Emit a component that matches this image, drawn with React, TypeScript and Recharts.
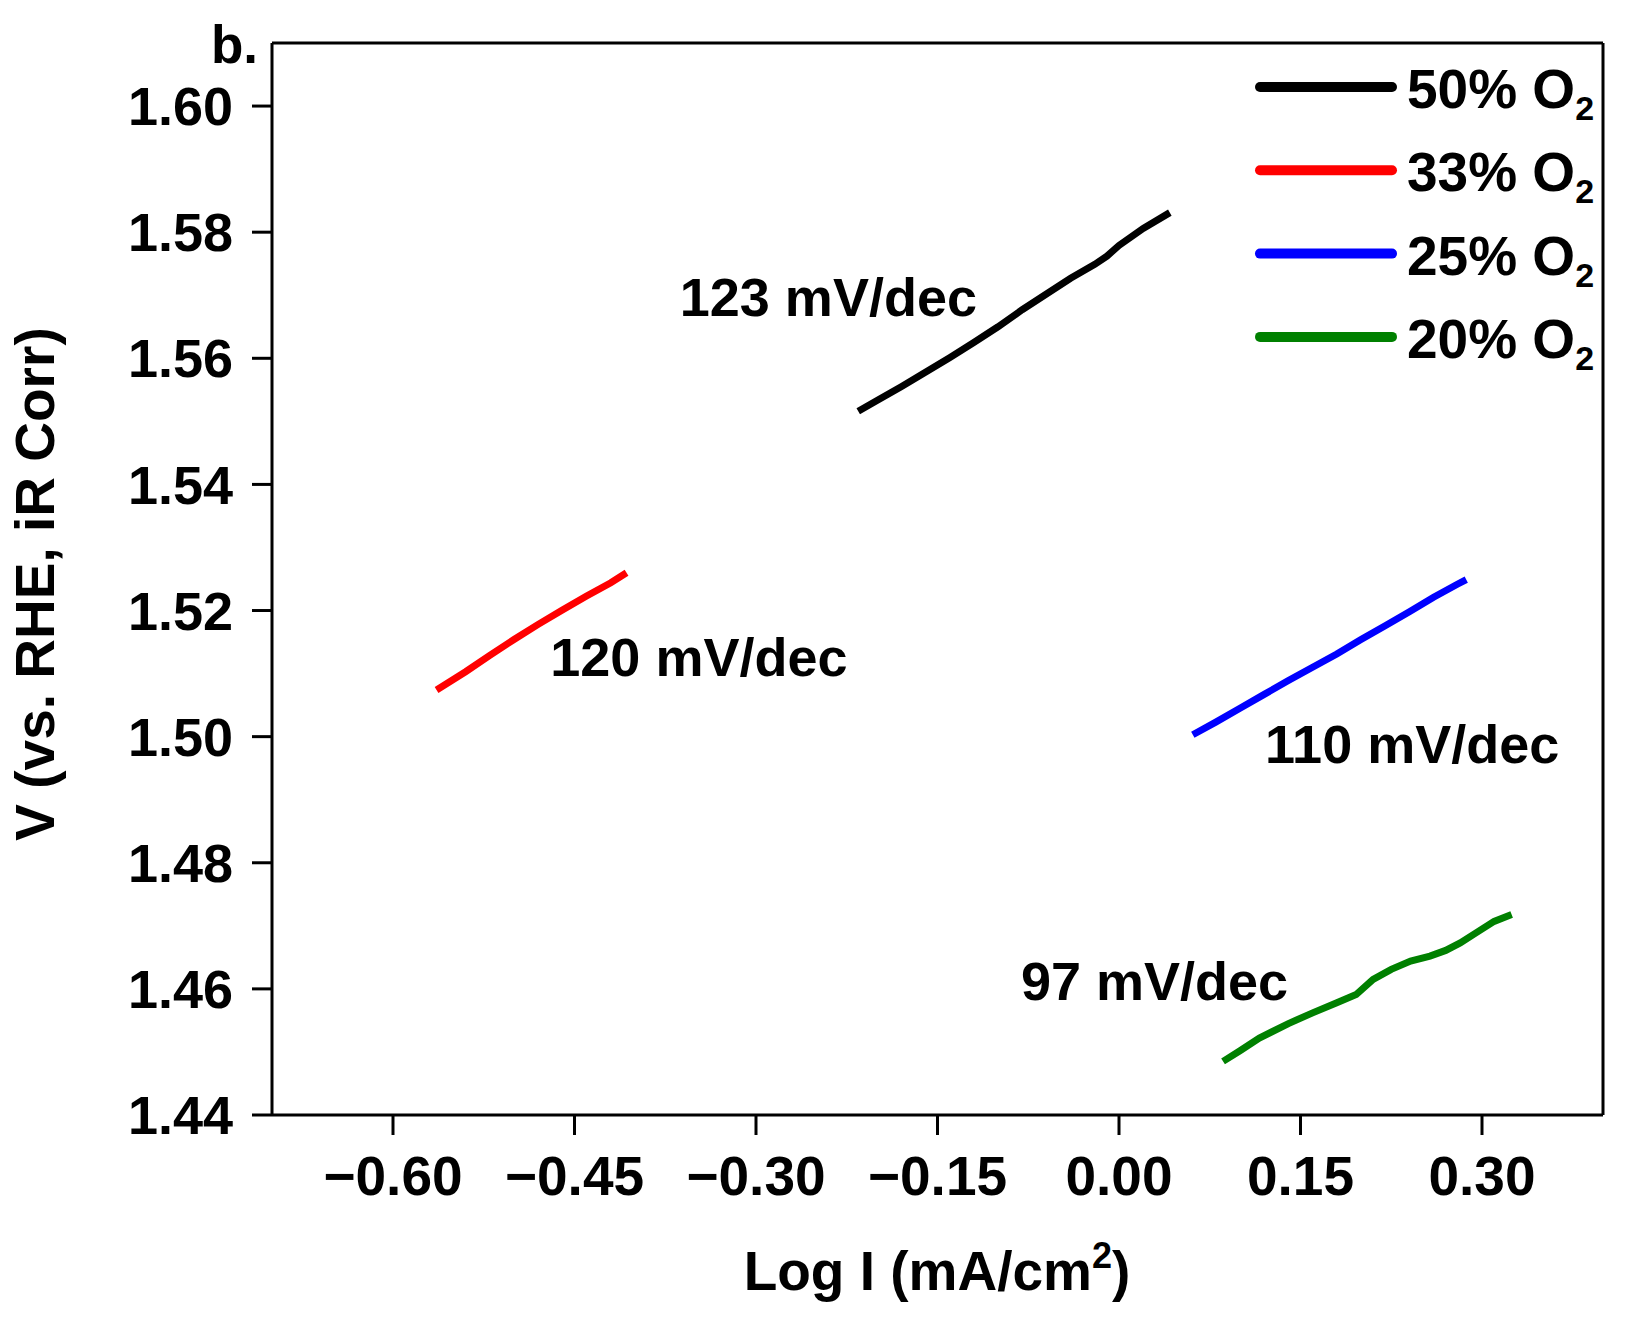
import { LineChart, Line, XAxis, YAxis, Legend, Label, ReferenceLine, ReferenceDot } from "recharts"

const font = "'Liberation Sans', Arial, sans-serif"

const xTicks = [-0.6, -0.45, -0.3, -0.15, 0, 0.15, 0.3]
const yTicks = [1.44, 1.46, 1.48, 1.5, 1.52, 1.54, 1.56, 1.58, 1.6]

const seriesNames = ["50% O₂", "33% O₂", "25% O₂", "20% O₂"]

// Tafel lines, x = log I (mA/cm2), v = V vs RHE (iR corrected)
const o2_50 = [
  { x: -0.2155, v: 1.5516 },
  { x: -0.2, v: 1.5533 },
  { x: -0.18, v: 1.5555 },
  { x: -0.16, v: 1.5578 },
  { x: -0.14, v: 1.5601 },
  { x: -0.12, v: 1.5625 },
  { x: -0.1, v: 1.565 },
  { x: -0.08, v: 1.5677 },
  { x: -0.06, v: 1.5702 },
  { x: -0.04, v: 1.5727 },
  { x: -0.02, v: 1.5749 },
  { x: -0.01, v: 1.5762 },
  { x: 0.0, v: 1.5779 },
  { x: 0.02, v: 1.5806 },
  { x: 0.042, v: 1.5831 },
]

const o2_33 = [
  { x: -0.564, v: 1.5074 },
  { x: -0.54, v: 1.5103 },
  { x: -0.52, v: 1.5129 },
  { x: -0.5, v: 1.5154 },
  { x: -0.48, v: 1.5178 },
  { x: -0.46, v: 1.5201 },
  { x: -0.44, v: 1.5223 },
  { x: -0.42, v: 1.5244 },
  { x: -0.407, v: 1.526 },
]

const o2_25 = [
  { x: 0.061, v: 1.5003 },
  { x: 0.08, v: 1.5023 },
  { x: 0.1, v: 1.5045 },
  { x: 0.12, v: 1.5067 },
  { x: 0.14, v: 1.5089 },
  { x: 0.16, v: 1.511 },
  { x: 0.18, v: 1.5131 },
  { x: 0.2, v: 1.5154 },
  { x: 0.22, v: 1.5176 },
  { x: 0.24, v: 1.5198 },
  { x: 0.26, v: 1.5221 },
  { x: 0.28, v: 1.5242 },
  { x: 0.287, v: 1.5249 },
]

const o2_20 = [
  { x: 0.086, v: 1.4485 },
  { x: 0.1, v: 1.4502 },
  { x: 0.116, v: 1.4522 },
  { x: 0.14, v: 1.4545 },
  { x: 0.16, v: 1.4562 },
  { x: 0.18, v: 1.4578 },
  { x: 0.196, v: 1.4591 },
  { x: 0.21, v: 1.4615 },
  { x: 0.225, v: 1.4631 },
  { x: 0.241, v: 1.4644 },
  { x: 0.257, v: 1.4652 },
  { x: 0.27, v: 1.4661 },
  { x: 0.282, v: 1.4673 },
  { x: 0.296, v: 1.469 },
  { x: 0.31, v: 1.4707 },
  { x: 0.3245, v: 1.4718 },
]

const slopeLabels = ["123 mV/dec", "120 mV/dec", "110 mV/dec", "97 mV/dec"]
// where each slope label starts (left edge, baseline) in data units
const slopeAnchors = [
  { x: -0.363, v: 1.5667 },
  { x: -0.47, v: 1.5096 },
  { x: 0.1207, v: 1.4959 },
  { x: -0.081, v: 1.4583 },
]

const fmtX = (v: number) => v.toFixed(2).replace("-", "\u2212")
const fmtY = (v: number) => v.toFixed(2)

function O2Legend({ payload }: any) {
  const items = seriesNames
    .map((n) => (payload ?? []).find((p: any) => p.value === n))
    .filter(Boolean)
  return (
    <svg width={376} height={360} style={{ display: "block" }}>
      {items.map((p: any, i: number) => {
        const y = 37 + i * 83.3
        return (
          <g key={p.value}>
            <line x1={10} x2={142} y1={y} y2={y} stroke={p.color} strokeWidth={10} strokeLinecap="round" />
            <text x={157} y={y + 21} fontSize={55} fontWeight="bold" fontFamily={font} fill="#000">
              {String(p.value).replace("₂", "")}
              <tspan fontSize={34} dy={12}>2</tspan>
            </text>
          </g>
        )
      })}
    </svg>
  )
}

const tickStyle = { fontSize: 55, fontWeight: "bold", fill: "#000", fontFamily: font }

export default function App() {
  return (
    <div style={{ width: 1626, height: 1335, background: "#fff" }}>
      <style>{"body{margin:0;background:#fff}"}</style>
      <LineChart width={1626} height={1335} margin={{ top: 43, right: 23, left: 0, bottom: 0 }}>
        <XAxis
          dataKey="x"
          type="number"
          domain={[-0.7, 0.4]}
          ticks={xTicks}
          tickFormatter={fmtX}
          height={220}
          tickSize={20}
          tickMargin={21}
          stroke="#000"
          strokeWidth={3}
          tick={tickStyle}
          allowDataOverflow
        >
          <Label
            content={() => (
              <text x={937} y={1290} textAnchor="middle" fontSize={55} fontWeight="bold" fontFamily={font} fill="#000">
                Log I (mA/cm
                <tspan fontSize={36} dy={-22}>2</tspan>
                <tspan dy={22}>)</tspan>
              </text>
            )}
          />
        </XAxis>
        <YAxis
          type="number"
          domain={[1.44, 1.61]}
          ticks={yTicks}
          tickFormatter={fmtY}
          width={272}
          tickSize={20}
          tickMargin={19}
          stroke="#000"
          strokeWidth={3}
          tick={{ ...tickStyle, fontSize: 54 }}
          allowDataOverflow
        >
          <Label
            content={() => (
              <g>
                <text
                  x={54}
                  y={584}
                  transform="rotate(-90 54 584)"
                  textAnchor="middle"
                  fontSize={55}
                  fontWeight="bold"
                  fontFamily={font}
                  fill="#000"
                >
                  V (vs. RHE, iR Corr)
                </text>
                <text x={258} y={63} textAnchor="end" fontSize={53} fontWeight="bold" fontFamily={font} fill="#000">
                  b.
                </text>
              </g>
            )}
          />
        </YAxis>
        <ReferenceLine y={1.61} stroke="#000" strokeWidth={3} />
        <ReferenceLine x={0.4} stroke="#000" strokeWidth={3} />
        <Line data={o2_50} dataKey="v" name={seriesNames[0]} stroke="#000000" strokeWidth={7} dot={false} isAnimationActive={false} />
        <Line data={o2_33} dataKey="v" name={seriesNames[1]} stroke="#ff0000" strokeWidth={7} dot={false} isAnimationActive={false} />
        <Line data={o2_25} dataKey="v" name={seriesNames[2]} stroke="#0000ff" strokeWidth={7} dot={false} isAnimationActive={false} />
        <Line data={o2_20} dataKey="v" name={seriesNames[3]} stroke="#008000" strokeWidth={7} dot={false} isAnimationActive={false} />
        {slopeLabels.map((t, i) => (
          <ReferenceDot
            key={t}
            x={slopeAnchors[i].x}
            y={slopeAnchors[i].v}
            r={0}
            fill="none"
            stroke="none"
            label={{
              content: ({ viewBox }: any) => (
                <text x={viewBox.x} y={viewBox.y} fontSize={54} fontWeight="bold" fontFamily={font} fill="#000">
                  {t}
                </text>
              ),
            }}
          />
        ))}
        <Legend
          layout="vertical"
          align="center"
          verticalAlign="middle"
          content={O2Legend}
          wrapperStyle={{ position: "absolute", left: 1250, top: 50, width: 376, height: 360 }}
        />
      </LineChart>
    </div>
  )
}
